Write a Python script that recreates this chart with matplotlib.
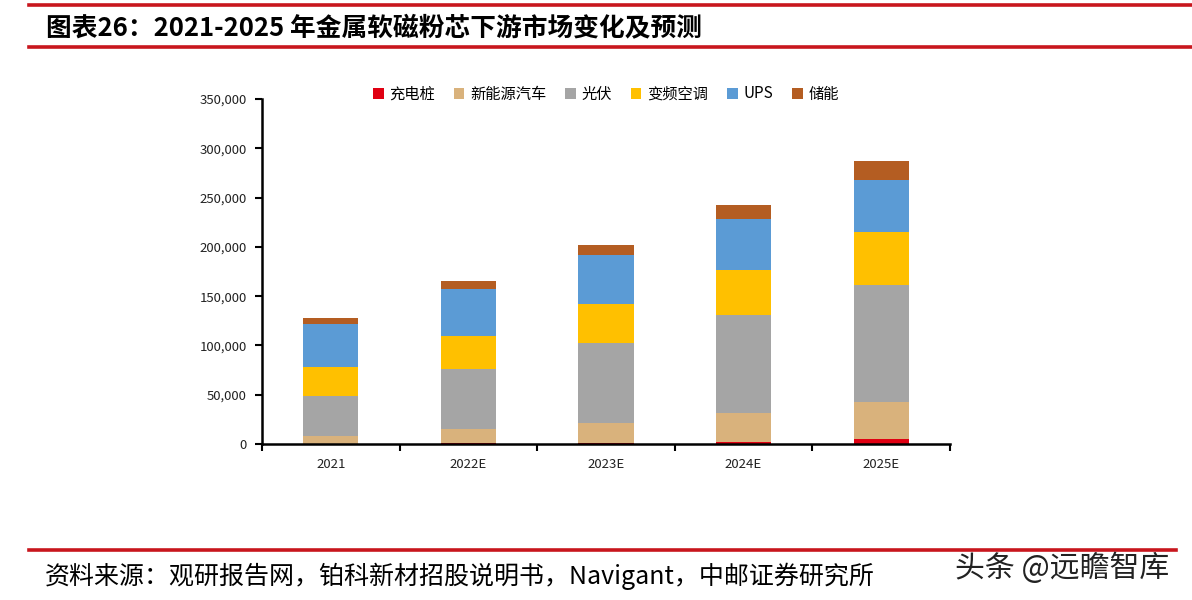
#!/usr/bin/env python3
"""Stacked bars: downstream market of metal soft magnetic powder cores, 2021-2025E."""

import numpy as np
import matplotlib
matplotlib.use("Agg")
import matplotlib.pyplot as plt
from matplotlib.lines import Line2D
from matplotlib.ticker import FuncFormatter, FixedLocator

plt.rcParams["font.family"] = ["Noto Sans CJK SC", "DejaVu Sans"]

years = ["2021", "2022E", "2023E", "2024E", "2025E"]
series_names = ["充电桩", "新能源汽车", "光伏", "变频空调", "UPS", "储能"]
charging = [200, 1000, 1500, 2400, 4700]
nev = [8000, 14000, 19500, 29500, 37500]
solar = [40000, 61000, 81000, 99000, 119000]
aircon = [30000, 34000, 40000, 46000, 54000]
ups = [44000, 47000, 50000, 51500, 52500]
storage = [6000, 8000, 10000, 14000, 19500]
colors = ["#e00012", "#d9b27c", "#a5a5a5", "#ffc000", "#5b9bd5", "#b45d22"]

title = "图表26：2021-2025 年金属软磁粉芯下游市场变化及预测"
source = "资料来源：观研报告网，铂科新材招股说明书，Navigant，中邮证券研究所"
watermark = "头条 @远瞻智库"

W, H = 1192, 600
fig = plt.figure(figsize=(W / 100, H / 100), dpi=100)

# header / footer rules
red = "#c8161d"
for y, x1 in [(5, W), (46.5, W), (550, 1176)]:
    fig.add_artist(Line2D([29 / W, x1 / W], [1 - y / H, 1 - y / H],
                          color=red, lw=2.6, transform=fig.transFigure))

fig.text(46 / W, 1 - 28 / H, title, fontsize=18.5, fontweight="bold",
         family=["Noto Sans CJK SC", "DejaVu Sans"], va="center", ha="left")
fig.text(45 / W, 1 - 576 / H, source, fontsize=18,
         family=["Noto Sans CJK SC", "DejaVu Sans"], va="center", ha="left")
fig.text(955 / W, 1 - 568 / H, watermark, fontsize=21.5, color="#222222",
         va="center", ha="left")

ax = fig.add_axes([262 / W, 1 - 444 / H, (950 - 262) / W, (444 - 99) / H])
x = np.arange(len(years))
bottom = np.zeros(len(years))
for name, vals, c in zip(series_names,
                         [charging, nev, solar, aircon, ups, storage], colors):
    ax.bar(x, vals, 0.4, bottom=bottom, color=c, label=name,
           edgecolor="none")
    bottom += np.array(vals)

ax.set_xlim(-0.5, len(years) - 0.5)
ax.set_ylim(0, 350000)
ax.set_yticks(np.arange(0, 350001, 50000))
ax.yaxis.set_major_formatter(FuncFormatter(lambda v, p: f"{int(v):,}"))
ax.set_xticks(x)
ax.set_xticklabels(years)
ax.xaxis.set_minor_locator(FixedLocator(np.arange(-0.5, len(years), 1)))
ax.tick_params(axis="x", which="major", length=0, pad=10, labelsize=9.5,
               labelcolor="#222222")
ax.tick_params(axis="x", which="minor", length=5, width=1.5, direction="out",
               color="black")
ax.tick_params(axis="y", length=5, width=1.5, direction="out", labelsize=9.5,
               labelcolor="#222222", pad=6)
for s in ["top", "right"]:
    ax.spines[s].set_visible(False)
for s in ["left", "bottom"]:
    ax.spines[s].set_linewidth(1.8)
    ax.spines[s].set_color("black")

ax.legend(loc="center", bbox_to_anchor=(0.5, 1 + 5 / 345), ncol=6,
          frameon=False, fontsize=11, handlelength=0.7, handleheight=0.7,
          handletextpad=0.4, columnspacing=1.2)

fig.savefig("out.png", dpi=100)
